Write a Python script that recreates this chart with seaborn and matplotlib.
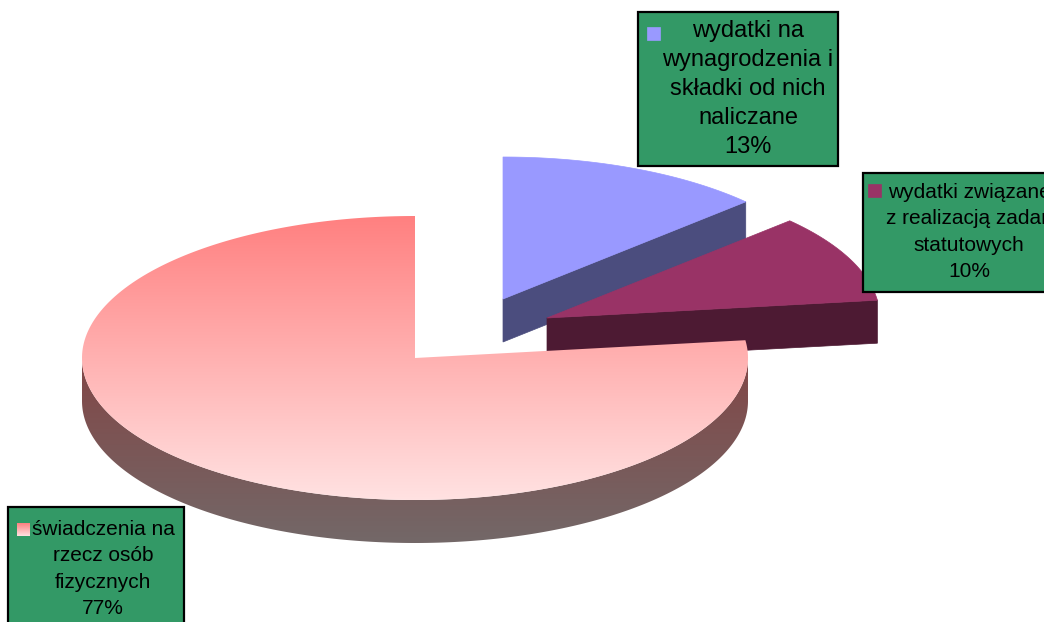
import numpy as np
import matplotlib
matplotlib.use("Agg")
import matplotlib.pyplot as plt
from matplotlib.patches import Polygon, Rectangle
import seaborn as sns

# dane wykresu (udział w %)
labels = [
    "wydatki na\nwynagrodzenia i\nskładki od nich\nnaliczane",
    "wydatki związane\nz realizacją zadań\nstatutowych",
    "świadczenia na\nrzecz osób\nfizycznych",
]
shares = [13, 10, 77]

# kolory: wierzch / bok
top_colors = ["#9999FF", "#993366", ("#FF8080", "#FFE2E2")]
side_colors = ["#4B4D7E", "#4D1A33", ("#824646", "#736868")]

# geometria (piksele)
cx, cy, rx, ry, depth = 415, 358, 333, 142, 43
explode = [(88, -59), (132, -40), (0, 0)]
boxes = [(638, 12, 200, 154), (863, 173, 200, 119), (8, 507, 176, 130)]
text_pos = [(748, 89), (969, 232), (103, 569)]
key_pos = [(647, 27), (868, 184), (17, 523)]
font_sizes = [17, 15, 15]
line_sp = [1.4, 1.48, 1.48]

sns.set_style("white")
plt.rcParams["font.family"] = ["Liberation Sans", "DejaVu Sans"]

fig = plt.figure(figsize=(10.44, 6.22), dpi=100)
ax = fig.add_axes([0, 0, 1, 1])
ax.set_xlim(0, 1044)
ax.set_ylim(622, 0)
ax.axis("off")


def pt(theta, ox, oy, dz=0):
    return (cx + ox + rx * np.cos(theta), cy + oy - ry * np.sin(theta) + dz)


def fill(poly, color, z):
    if isinstance(color, tuple):
        patch = Polygon(poly, closed=True, facecolor="none", edgecolor="none", zorder=z)
        ax.add_patch(patch)
        cmap = sns.blend_palette(list(color), as_cmap=True)
        ys = np.array(poly)[:, 1]
        xs = np.array(poly)[:, 0]
        grad = np.linspace(0, 1, 256).reshape(-1, 1)
        im = ax.imshow(grad, cmap=cmap, aspect="auto",
                       extent=(xs.min(), xs.max(), ys.max(), ys.min()), zorder=z)
        im.set_clip_path(patch)
    else:
        ax.add_patch(Polygon(poly, closed=True, facecolor=color, edgecolor=color,
                             linewidth=0.5, zorder=z))


start = np.pi / 2
for i, share in enumerate(shares):
    span = 2 * np.pi * share / sum(shares)
    t0, t1 = start, start - span
    ox, oy = explode[i]
    z = 2 + i * 3
    # bok zewnętrzny (dolna połowa elipsy)
    th = np.linspace(t0, t1, 400)
    vis = np.sin(th) < 0
    if vis.any():
        tv = th[vis]
        upper = [pt(t, ox, oy) for t in tv]
        lower = [pt(t, ox, oy, depth) for t in tv[::-1]]
        fill(upper + lower, side_colors[i], z)
    # ściana przekroju
    if np.cos(t1) > 1e-6:
        apex = (cx + ox, cy + oy)
        edge = pt(t1, ox, oy)
        fill([apex, edge, (edge[0], edge[1] + depth), (apex[0], apex[1] + depth)],
             side_colors[i], z)
    # wierzch
    top = [(cx + ox, cy + oy)] + [pt(t, ox, oy) for t in th]
    fill(top, top_colors[i], z + 1)
    start = t1

# etykiety
for i, share in enumerate(shares):
    bx, by, bw, bh = boxes[i]
    ax.add_patch(Rectangle((bx, by), bw, bh, facecolor="#339966", edgecolor="black",
                           linewidth=1.6, zorder=20))
    kx, ky = key_pos[i]
    fill([(kx, ky), (kx + 13, ky), (kx + 13, ky + 13), (kx, ky + 13)], top_colors[i], 21)
    tx, ty = text_pos[i]
    ax.text(tx, ty, f"{labels[i]}\n{share}%", ha="center", va="center",
            fontsize=font_sizes[i], linespacing=line_sp[i], color="black",
            zorder=22, clip_on=True)

fig.savefig("out.png", dpi=100)
